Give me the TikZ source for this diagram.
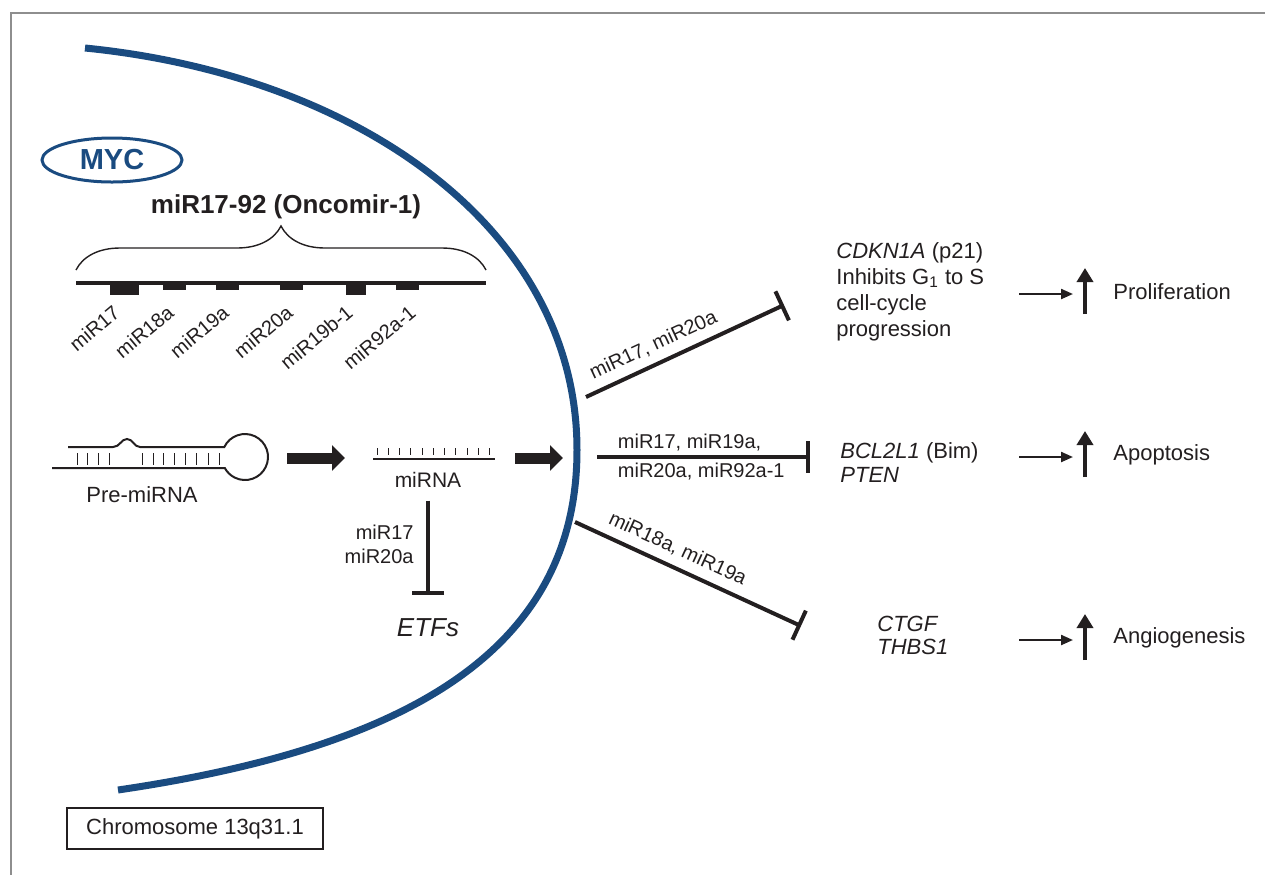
\documentclass[tikz,border=0pt]{standalone}
\usepackage{fontspec}
\setmainfont{Liberation Sans}
\usetikzlibrary{arrows.meta,calc,positioning,decorations.pathreplacing,shapes.geometric}
\definecolor{envBlue}{HTML}{1A4B80}
\definecolor{inkBlack}{HTML}{231F20}
\definecolor{frameGray}{HTML}{8E8E8E}
\tikzset{
  every node/.style={font=\fontsize{11}{13}\selectfont, text=inkBlack},
  framerule/.style={draw=frameGray, line width=1.25pt},
  envelope/.style={draw=envBlue, line width=3.5pt},
  mycoval/.style={ellipse, draw=envBlue, line width=1.5pt, minimum width=70pt, minimum height=22pt, inner sep=0pt, text=envBlue, font=\fontsize{14.5}{16}\selectfont\bfseries},
  clustertitle/.style={font=\fontsize{13}{15}\selectfont\bfseries},
  clusterbrace/.style={draw=inkBlack, line width=0.7pt, decorate, decoration={brace, amplitude=22pt}},
  genome/.style={draw=inkBlack, line width=2pt},
  mirtag/.style={font=\fontsize{10}{11}\selectfont, rotate=40, anchor=north east, inner sep=0.5pt},
  strand/.style={draw=inkBlack, line width=1pt},
  pairtick/.style={draw=inkBlack, line width=0.5pt},
  duplex/.style={draw=inkBlack, line width=1.3pt},
  bigarrow/.style={-{Triangle[length=6.5pt,width=12.5pt]}, line width=5.5pt, draw=inkBlack},
  inhib/.style={-{Bar[width=16pt]}, line width=2pt, draw=inkBlack},
  siglabel/.style={font=\fontsize{10}{12}\selectfont, inner sep=2pt},
  slopelabel/.style={siglabel, sloped, above, inner ysep=4pt},
  genetext/.style={anchor=west, align=left, inner sep=0pt},
  stepon/.style={-{Triangle[length=6pt,width=5pt]}, line width=1.1pt, draw=inkBlack},
  rise/.style={-{Triangle[length=7pt,width=8pt]}, line width=2.1pt, draw=inkBlack},
  outcome/.style={anchor=west, inner sep=0pt},
  chrombox/.style={draw=inkBlack, line width=0.8pt, minimum width=128pt, minimum height=20.5pt, inner sep=0pt},
}

\begin{document}
\begin{tikzpicture}[x=0.5pt,y=-0.5pt]
  \useasboundingbox (0,0) rectangle (1265,875);

  % frame
  \draw[framerule] (1265,13) -- (11,13) -- (11,875);

  % nuclear envelope
  \draw[envelope] (85,48) .. controls (357,75) and (577,228) .. (577,450)
    .. controls (577,660) and (390,750) .. (118,790);

  % MYC and the cluster on 13q31.1
  \node[mycoval] (myc) at (112,160) {MYC};
  \node[clustertitle] (cluster) at (286,207) {miR17-92 (Oncomir-1)};
  \draw[clusterbrace] (76,270) -- (486,270);
  \draw[genome] (76,283) -- (486,283);
  \foreach \a/\b/\d in {110/139/295,163/186/290,216/239/290,280/303/290,346/366/295,396/419/290}
    \fill[inkBlack] (\a,284) rectangle (\b,\d);
  \foreach \x/\name in {112/miR17,166/miR18a,221/miR19a,285/miR20a,345/miR19b-1,408/miR92a-1}
    \node[mirtag] (tag-\name) at (\x,302) {\name};

  % pre-miRNA hairpin
  \draw[strand] (68,447) -- (113,447) .. controls (120,447) and (121,439) .. (127,439)
    .. controls (133,439) and (134,447) .. (140,447) -- (224.3,447)
    arc[start angle=205.8, end angle=511.4, radius=23] -- (52,468);
  \foreach \x in {77,87,98,109,142,153,163,174,185,196,208,219}
    \draw[pairtick] (\x,453) -- (\x,465);
  \node (premirna) at (142,495) {Pre-miRNA};

  % mature miRNA
  \draw[duplex] (373,459) -- (495,459);
  \foreach \x in {377,388,399,410,422,433,444,455,467,478,489}
    \draw[pairtick] (\x,448) -- (\x,455);
  \node[font=\fontsize{10.5}{12}\selectfont] (mirna) at (428,480) {miRNA};

  \coordinate (proc1a) at (287,458);
  \coordinate (proc1b) at (345,458);
  \coordinate (proc2a) at (515,458);
  \coordinate (proc2b) at (563,458);
  \draw[bigarrow] (proc1a) -- (proc1b);
  \draw[bigarrow] (proc2a) -- (proc2b);

  % ETFs
  \node[font=\fontsize{13}{15}\selectfont\itshape] (etfs) at (428,628) {ETFs};
  \draw[inhib, shorten <=3pt, shorten >=8.5pt] (mirna.south) -- (etfs.north);
  \node[siglabel, align=right, anchor=east] (etfmirs) at (418,544) {miR17\\miR20a};

  % targets
  \coordinate (from1) at (586,397);
  \coordinate (to1) at (784,305);
  \coordinate (from2) at (597,457);
  \coordinate (to2) at (810,457);
  \coordinate (from3) at (575,522);
  \coordinate (to3) at (801,626);
  \draw[inhib] (from1) -- node[slopelabel, pos=0.38] {miR17, miR20a} (to1);
  \draw[inhib] (from2) -- node[siglabel, anchor=south west, pos=0.07] {miR17, miR19a,}
    node[siglabel, anchor=north west, pos=0.07] {miR20a, miR92a-1} (to2);
  \draw[inhib] (from3) -- node[slopelabel, pos=0.42] {miR18a, miR19a} (to3);

  \node[genetext] (cdkn) at (836,292) {\textit{CDKN1A} (p21)\\Inhibits G\textsubscript{1} to S\\cell-cycle\\progression};
  \node[genetext, font=\fontsize{11}{12}\selectfont] (bcl) at (840,463) {\textit{BCL2L1} (Bim)\\\textit{PTEN}};
  \node[genetext, font=\fontsize{11}{11.5}\selectfont\itshape] (ctgf) at (877,635) {CTGF\\THBS1};

  % outcomes
  \foreach \y/\name/\lab in {294/prolif/Proliferation,457/apop/Apoptosis,640/angio/Angiogenesis}{
    \coordinate (\name-a) at (1019,\y);
    \coordinate (\name-b) at (1073,\y);
    \coordinate (\name-lo) at (1085,\y+20);
    \coordinate (\name-hi) at (1085,\y-26);
    \draw[stepon] (\name-a) -- (\name-b);
    \draw[rise] (\name-lo) -- (\name-hi);
    \node[outcome] (\name) at (1113,\y-2) {\lab};
  }

  \node[chrombox] (chrom) at (195,828.5) {Chromosome 13q31.1};
\end{tikzpicture}
\end{document}
